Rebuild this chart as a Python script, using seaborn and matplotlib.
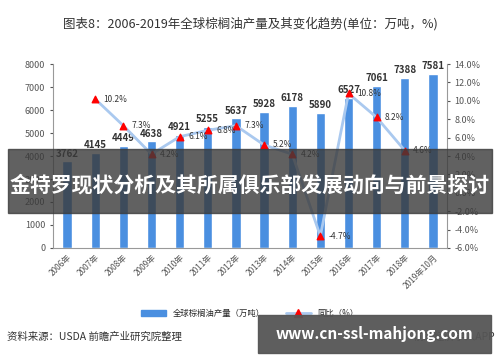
import numpy as np
import pandas as pd
import matplotlib
matplotlib.use("Agg")
import matplotlib.pyplot as plt
import seaborn as sns
from matplotlib.patches import Patch
from matplotlib.lines import Line2D

sns.set_style("white")
plt.rcParams['font.family'] = ['Noto Sans CJK SC', 'DejaVu Sans']

# 数据
years = ["2006年", "2007年", "2008年", "2009年", "2010年", "2011年", "2012年",
         "2013年", "2014年", "2015年", "2016年", "2017年", "2018年", "2019年10月"]
output = [3762, 4145, 4449, 4638, 4921, 5255, 5637, 5928, 6178, 5890, 6527, 7061, 7388, 7581]
yoy = [np.nan, 10.2, 7.3, 4.2, 6.1, 6.8, 7.3, 5.2, 4.2, -4.7, 10.8, 8.2, 4.6, np.nan]

df = pd.DataFrame({"year": years, "output": output, "yoy": yoy})

bar_col = "#4a8fe0"
line_col = "#aac9ef"

fig = plt.figure(figsize=(5, 3.62), dpi=100)
ax = fig.add_axes([0.106, 0.315, 0.788, 0.508])

sns.barplot(data=df, x="year", y="output", color=bar_col, width=0.33, ax=ax, saturation=1)
ax.set_ylim(0, 8000)
ax.set_yticks(range(0, 8001, 1000))
ax.set_xlim(-0.5, len(years) - 0.5)
ax.set_xlabel("")
ax.set_ylabel("")
for i, v in enumerate(output):
    ax.text(i, v + 120, str(v), ha="center", va="bottom", fontsize=7,
            fontweight="bold", color="#333333")

ax2 = ax.twinx()
xs = np.arange(len(years))
ax2.plot(xs, yoy, color=line_col, lw=2, zorder=2)
ax2.scatter(xs, yoy, marker="^", color="red", s=22, zorder=3)
ax2.set_ylim(-6, 14)
ax2.set_yticks(np.arange(-6, 14.1, 2))
ax2.set_yticklabels([f"{t:.1f}%" for t in np.arange(-6, 14.1, 2)])
ax2.set_xlim(-0.5, len(years) - 0.5)
for i, v in enumerate(yoy):
    if not np.isnan(v):
        ax2.text(i + 0.3, v, f"{v}%", ha="left", va="center", fontsize=6, color="#333333")

for a in (ax, ax2):
    a.tick_params(axis="y", labelsize=6.5, colors="#555555", length=2)
    for s in a.spines.values():
        s.set_visible(False)
ax.spines["left"].set_visible(True)
ax.spines["bottom"].set_visible(True)
ax2.spines["right"].set_visible(True)
for s in (ax.spines["left"], ax.spines["bottom"], ax2.spines["right"]):
    s.set_color("#999999")
    s.set_linewidth(0.8)
ax.tick_params(axis="x", labelsize=6, colors="#555555", length=0)
plt.setp(ax.get_xticklabels(), rotation=45, ha="right", rotation_mode="anchor")

fig.text(0.5, 0.934, "图表8：2006-2019年全球棕榈油产量及其变化趋势(单位：万吨，%)",
         ha="center", va="center", fontsize=9, color="#333333")

handles = [Patch(color=bar_col), Line2D([0], [0], color=line_col, lw=2, marker="^",
                                         markerfacecolor="red", markeredgecolor="red")]
fig.legend(handles, ["全球棕榈油产量（万吨）", "同比（%）"], loc="center",
           bbox_to_anchor=(0.5, 0.135), ncol=2, frameon=False, fontsize=6,
           handlelength=3, columnspacing=2.5)

fig.text(0.014, 0.07, "资料来源：USDA 前瞻产业研究院整理", ha="left", va="center",
         fontsize=7.5, color="#333333")
fig.text(0.99, 0.07, "前瞻经济学人APP", ha="right", va="center", fontsize=7.5, color="#333333")

# 覆盖横幅
fig.patches.append(plt.Rectangle((0.016, 0.412), 0.968, 0.176, transform=fig.transFigure,
                                 color="#3a3a3a", alpha=0.8, zorder=10))
fig.text(0.5, 0.49, "金特罗现状分析及其所属俱乐部发展动向与前景探讨", ha="center", va="center",
         fontsize=15, fontweight="bold", color="white", zorder=11)
fig.patches.append(plt.Rectangle((0.516, 0.025), 0.466, 0.105, transform=fig.transFigure,
                                 color="#555555", alpha=0.95, zorder=10))
fig.text(0.749, 0.077, "www.cn-ssl-mahjong.com", ha="center", va="center",
         fontsize=11, fontweight="bold", color="white", zorder=11)

fig.savefig("out.png", dpi=100)
